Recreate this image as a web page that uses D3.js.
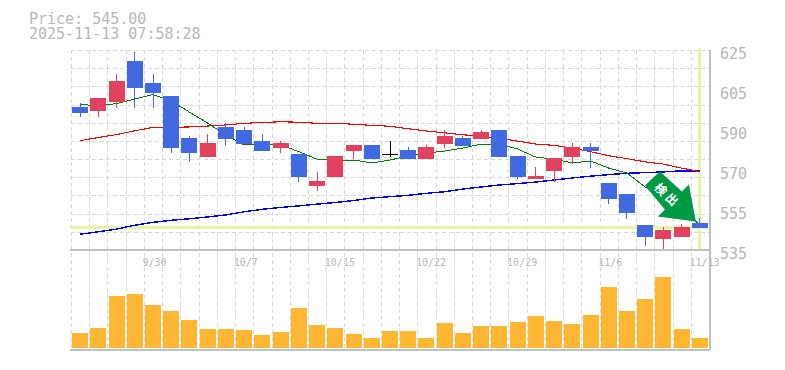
<!DOCTYPE html>
<html>
<head>
<meta charset="utf-8">
<script src="https://cdnjs.cloudflare.com/ajax/libs/d3/7.8.5/d3.min.js"></script>
<style>
html, body { margin: 0; padding: 0; background: #fff; }
svg { display: block; }
text { font-family: "DejaVu Sans Mono", monospace; fill: #b8b8b8; opacity: 0.999; }
</style>
</head>
<body>
<svg></svg>
<script>
const dates = ["9/24","9/25","9/26","9/29","9/30","10/1","10/2","10/3","10/6","10/7","10/8","10/9","10/10","10/14","10/15","10/16","10/17","10/20","10/21","10/22","10/23","10/24","10/27","10/28","10/29","10/30","10/31","11/4","11/5","11/6","11/7","11/10","11/11","11/12","11/13"];
const dateTicks = ["9/30","10/7","10/15","10/22","10/29","11/6","11/13"];

const open = [598.6,596.8,600.8,619,609.2,603.4,584.8,576.3,589.7,588.3,583.4,580.3,577.7,563.4,567.4,579,581.7,577.7,579.4,575.4,582.1,584.8,584.3,588.3,576.8,566.6,570.1,576.3,580.8,564.8,559.9,546.1,539.9,540.8,547];
const high = [600.2,602.6,613.2,623,613.2,603.4,585.7,586.6,591.4,589.7,586.6,583.4,577.7,569.7,576.8,581.7,581.7,583.4,580.8,581.7,588.3,585.7,588.3,588.3,576.8,571.9,575.9,582.6,582.6,564.8,559.9,546.1,545.2,546.6,549.2];
const low = [594.1,594.1,598.1,598.1,598.1,578.1,574.1,576.3,581.2,582.1,579,578.1,565.2,561.2,567.4,575.4,575.4,576.3,575.4,575.4,580.3,581.2,584.3,576.3,566.6,566.6,565.2,573.2,571.4,555.4,548.8,536.8,534.6,540.8,545];
const close = [595.9,602.6,610.1,607,604.8,580.3,578.1,582.6,584.3,582.1,579,582.6,567.4,565.7,576.8,581.7,575.4,577.7,575.4,580.8,585.7,581.2,587.4,576.3,567.4,567.9,575.9,580.8,579,557.7,551.4,540.8,543.9,545.2,545];

const maShort = [599.8,599,600.1,602.1,604.1,601.2,596.3,591.4,586.1,581.7,581.7,581.7,578.7,575.4,575,575,573.7,575,576.8,578.1,579,580.3,582.1,582.1,579.9,576.3,575.4,573.7,574.6,571.4,569.2,563,558.6,553.7,546.1];
const maMid = [583.6,585,586.3,588,589.5,589.5,589.7,590.1,590.6,591.3,591.7,592,591.8,591.3,591.3,590.9,590.4,590,588.9,587.9,587.1,586.2,585.7,584.6,583.4,582.1,581.5,580.3,578.7,576.9,575.6,574.2,573.2,571.4,569.8];
const maLong = [542,543.1,544.3,546,547.3,548.2,548.9,549.7,550.6,552,553.1,553.9,554.6,555.4,556.1,557,558.1,558.7,559.3,560.2,560.9,562.1,563,563.9,564.5,565.2,566.1,567,567.8,568.5,569.1,569.4,569.7,570.2,570.2];

// volume, thousands of shares
const volume = [15,20,52,54,43,37,28,19,19,18,13,16,40,23,20,14,10,17,17,10,25,15,22,22,26,32,27,24,33,61,37,49,71,19,10];

const priceTicks = [535,552.8,570.6,588.3,606.1,623.9];
const lastPrice = 545;

const width = 785, height = 370;
const margin = { left: 71, right: 709, top: 50, bottom: 250, volBottom: 350 };
const candleW = 16;

const svg = d3.select("svg").attr("width", width).attr("height", height);

const x = d3.scaleBand().domain(dates).range([margin.left, margin.right]);
const cx = d => x(d) + x.bandwidth() / 2;
const y = d3.scaleLinear().domain([535, 623.9]).range([margin.bottom, margin.top]);
const yVol = d3.scaleLinear().domain([0, 98]).range([348, margin.bottom]);

// dashed grid
const grid = svg.append("g")
    .attr("stroke", "#d8d8d8")
    .attr("stroke-dasharray", "4,3")
    .attr("shape-rendering", "crispEdges");

grid.selectAll(".gv").data(dates).join("line")
    .attr("x1", d => Math.round(x(d)) + 0.5)
    .attr("x2", d => Math.round(x(d)) + 0.5)
    .attr("y1", margin.top)
    .attr("y2", margin.volBottom);

grid.selectAll(".gh").data(d3.range(12)).join("line")
    .attr("x1", margin.left)
    .attr("x2", margin.right)
    .attr("y1", i => Math.round(margin.top + i * 200 / 11) + 0.5)
    .attr("y2", i => Math.round(margin.top + i * 200 / 11) + 0.5);

// current price and date crosshair
const cross = svg.append("g")
    .attr("fill", "none")
    .attr("stroke", "#e4f5a6")
    .attr("stroke-width", 3)
    .attr("shape-rendering", "crispEdges");
cross.append("line")
    .attr("x1", margin.left - 1).attr("x2", margin.right - 1)
    .attr("y1", y(lastPrice)).attr("y2", y(lastPrice));
cross.append("line")
    .attr("x1", cx(dates[34])).attr("x2", cx(dates[34]))
    .attr("y1", margin.top - 2).attr("y2", margin.bottom - 1);

// moving averages
const line = d3.line().x((d, i) => cx(dates[i])).y(d => y(d));
[[maLong, "#0000ff", 1.4], [maMid, "#ff0000", 1.1], [maShort, "#008000", 1]].forEach(([s, c, w]) => {
    svg.append("path")
        .datum(s)
        .attr("fill", "none")
        .attr("stroke", c)
        .attr("stroke-width", w)
        .attr("shape-rendering", "crispEdges")
        .attr("d", line);
});

// candles
const colorOf = i => close[i] === open[i] ? "#000" : close[i] > open[i] ? "#e3425f" : "#4169e1";
const candles = svg.append("g").attr("shape-rendering", "crispEdges")
    .selectAll("g").data(dates).join("g");

candles.append("line")
    .attr("x1", d => cx(d)).attr("x2", d => cx(d))
    .attr("y1", (d, i) => y(high[i]))
    .attr("y2", (d, i) => y(low[i]))
    .attr("stroke", (d, i) => colorOf(i))
    .attr("stroke-width", 1);

candles.append("rect")
    .attr("x", d => cx(d) - candleW / 2)
    .attr("width", candleW)
    .attr("y", (d, i) => y(Math.max(open[i], close[i])))
    .attr("height", (d, i) => Math.max(1, Math.abs(y(open[i]) - y(close[i]))))
    .attr("fill", (d, i) => colorOf(i));

// volume bars
svg.append("g").attr("shape-rendering", "crispEdges")
    .selectAll("rect").data(volume).join("rect")
    .attr("x", (d, i) => cx(dates[i]) - candleW / 2)
    .attr("width", candleW)
    .attr("y", d => yVol(d))
    .attr("height", d => yVol(0) - yVol(d))
    .attr("fill", "#ffb733");

// frame lines
const frame = svg.append("g").attr("stroke", "#c0c0c0").attr("stroke-width", 1.5).attr("shape-rendering", "crispEdges");
frame.append("line").attr("x1", margin.left - 1).attr("x2", margin.right + 1).attr("y1", margin.bottom).attr("y2", margin.bottom);
frame.append("line").attr("x1", margin.left - 1).attr("x2", margin.right + 1).attr("y1", margin.volBottom).attr("y2", margin.volBottom);
frame.append("line").attr("x1", margin.right + 1).attr("x2", margin.right + 1).attr("y1", margin.top).attr("y2", margin.volBottom);

// axes
const yAxis = svg.append("g")
    .attr("transform", `translate(${margin.right},0)`)
    .call(d3.axisRight(y).tickValues(priceTicks).tickSize(0).tickPadding(11).tickFormat(d => Math.round(d / 5) * 5));
yAxis.select(".domain").remove();
yAxis.selectAll("text").attr("font-size", 15).attr("dy", "0.55em").attr("y", 0);

const xAxis = svg.append("g")
    .attr("transform", `translate(0,${margin.bottom})`)
    .call(d3.axisBottom(x).tickValues(dateTicks).tickSize(0).tickPadding(9));
xAxis.select(".domain").remove();
xAxis.selectAll("text")
    .attr("font-size", 10)
    .attr("text-anchor", "start")
    .attr("dx", -10.5);

// price header
svg.append("text").attr("x", 29).attr("y", 24).attr("font-size", 15).text("Price: " + lastPrice.toFixed(2));
svg.append("text").attr("x", 29).attr("y", 39).attr("font-size", 15).text("2025-11-13 07:58:28");

// signal arrow, anchored on the last candle
const tipX = cx(dates[34]) - 4, tipY = y(lastPrice) - 6;
const arrow = svg.append("g").attr("transform", `translate(${tipX},${tipY})`);
arrow.append("polygon")
    .attr("points", [[-51,-36],[-36,-50],[-14,-30],[-7,-37],[0,0],[-38,-5],[-31,-12]].join(" "))
    .attr("fill", "#009944");
[["検", -35, -32], ["出", -24, -22]].forEach(([t, tx, ty]) => {
    arrow.append("text")
        .attr("transform", `translate(${tx},${ty}) rotate(45)`)
        .attr("text-anchor", "middle")
        .attr("dy", "0.36em")
        .style("font-family", '"Noto Sans CJK JP"')
        .style("font-weight", 700)
        .style("fill", "#fff")
        .attr("font-size", 12)
        .text(t);
});
</script>
</body>
</html>
